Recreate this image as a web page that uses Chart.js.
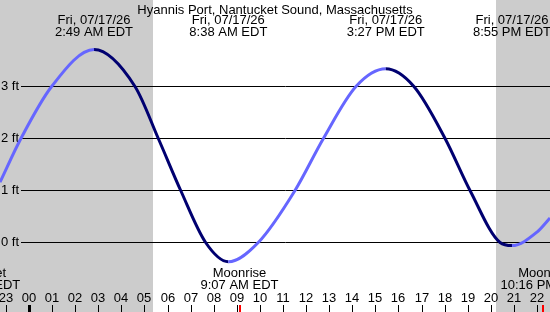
<!DOCTYPE html>
<html>
<head>
<meta charset="utf-8">
<script src="https://cdn.jsdelivr.net/npm/chart.js@4/dist/chart.umd.min.js"></script>
<style>
  body { margin: 0; background: #fff; }
  #tide { display: block; }
</style>
</head>
<body>
<canvas id="tide" width="550" height="312"></canvas>
<script>
// hours since midnight 07/17/26 (negative = evening before), tide height in ft
const hours   = [-1.256, -0.35, 0.98, 2.817, 4.59, 5.60, 6.57, 7.65, 8.633, 9.93, 11.52, 12.75, 14.16, 15.45, 16.67, 18.02, 19.10, 20.40, 20.917, 22.0, 22.564]
const heights = [1.16, 2.0, 3.0, 3.71, 3.0, 2.0, 1.0, 0.0, -0.37, 0.0, 1.0, 2.0, 3.0, 3.34, 3.0, 2.0, 1.0, 0.0, -0.06, 0.2, 0.47]

const tideTimes  = [2.817, 8.633, 15.45, 20.917]
const tideLabels = ["2:49 AM EDT", "8:38 AM EDT", "3:27 PM EDT", "8:55 PM EDT"]
const tideDate = "Fri, 07/17/26"

const moonTimes  = [-2.067, 9.117, 22.267]
const moonNames  = ["Moonset", "Moonrise", "Moonset"]
const moonLabels = ["9:56 PM EDT", "9:07 AM EDT", "10:16 PM EDT"]

const sunrise = 5.37
const sunset = 20.22

const hourTicks = [-1, 0, 1, 2, 3, 4, 5, 6, 7, 8, 9, 10, 11, 12, 13, 14, 15, 16, 17, 18, 19, 20, 21, 22]
const feetTicks = [0, 1, 2, 3]

const title = "Hyannis Port, Nantucket Sound, Massachusetts"
const font = '13px "Liberation Sans", Arial, sans-serif'
const rising = "#6666ff"
const falling = "#000070"

const points = hours.map((h, i) => ({ x: h, y: heights[i] }))

const backdrop = {
  id: "backdrop",
  beforeDatasetsDraw(chart) {
    const ctx = chart.ctx
    const xs = chart.scales.x, ys = chart.scales.y
    const w = chart.width, hgt = chart.height
    ctx.save()
    ctx.fillStyle = "#fff"
    ctx.fillRect(0, 0, w, hgt)
    // night
    ctx.fillStyle = "#cccccc"
    const xr = Math.round(xs.getPixelForValue(sunrise))
    const xsSet = Math.round(xs.getPixelForValue(sunset))
    ctx.fillRect(0, 0, xr, hgt)
    ctx.fillRect(xsSet, 0, w - xsSet, hgt)
    // depth lines
    ctx.font = font
    ctx.textBaseline = "middle"
    ctx.fillStyle = "#000"
    ctx.strokeStyle = "#000"
    ctx.lineWidth = 1
    feetTicks.forEach(f => {
      const y = Math.round(ys.getPixelForValue(f) - 0.5) + 0.5
      ctx.beginPath()
      ctx.moveTo(21, y)
      ctx.lineTo(w, y)
      ctx.stroke()
      ctx.textAlign = "left"
      ctx.fillText(f + " ft", 1, y)
    })
    ctx.restore()
  },
  afterDatasetsDraw(chart) {
    const ctx = chart.ctx
    const xs = chart.scales.x
    const hgt = chart.height
    ctx.save()
    ctx.font = font
    ctx.fillStyle = "#000"
    ctx.textAlign = "center"
    ctx.textBaseline = "alphabetic"
    ctx.fillText(title, chart.width / 2, 14)
    tideTimes.forEach((t, i) => {
      const x = xs.getPixelForValue(t)
      ctx.fillText(tideDate, x, 24)
      ctx.fillText(tideLabels[i], x, 36)
    })
    moonTimes.forEach((t, i) => {
      const x = xs.getPixelForValue(t)
      ctx.fillText(moonNames[i], x, 277)
      ctx.fillText(moonLabels[i], x, 289)
      ctx.fillStyle = "#ff0000"
      ctx.fillRect(Math.round(x) - 1, 305, 2, hgt - 305)
      ctx.fillStyle = "#000"
    })
    hourTicks.forEach(h => {
      const x = Math.round(xs.getPixelForValue(h))
      const lab = String((h + 24) % 24).padStart(2, "0")
      ctx.fillText(lab, x, 302)
      if (h === 0) ctx.fillRect(x - 1, 305, 3, hgt - 305)
      else ctx.fillRect(x, 305, 1, hgt - 305)
    })
    ctx.restore()
  }
}

new Chart(document.getElementById("tide"), {
  type: "line",
  data: {
    datasets: [{
      data: points,
      borderWidth: 3,
      pointRadius: 0,
      cubicInterpolationMode: "monotone",
      segment: {
        borderColor: c => c.p1.parsed.y > c.p0.parsed.y ? rising : falling
      }
    }]
  },
  options: {
    responsive: false,
    animation: false,
    layout: { padding: 0 },
    plugins: { legend: { display: false }, tooltip: { enabled: false } },
    scales: {
      x: { type: "linear", display: false, min: -1.256, max: 22.564 },
      y: { display: false, min: -1.3365, max: 4.6635 }
    }
  },
  plugins: [backdrop]
})
</script>
</body>
</html>
